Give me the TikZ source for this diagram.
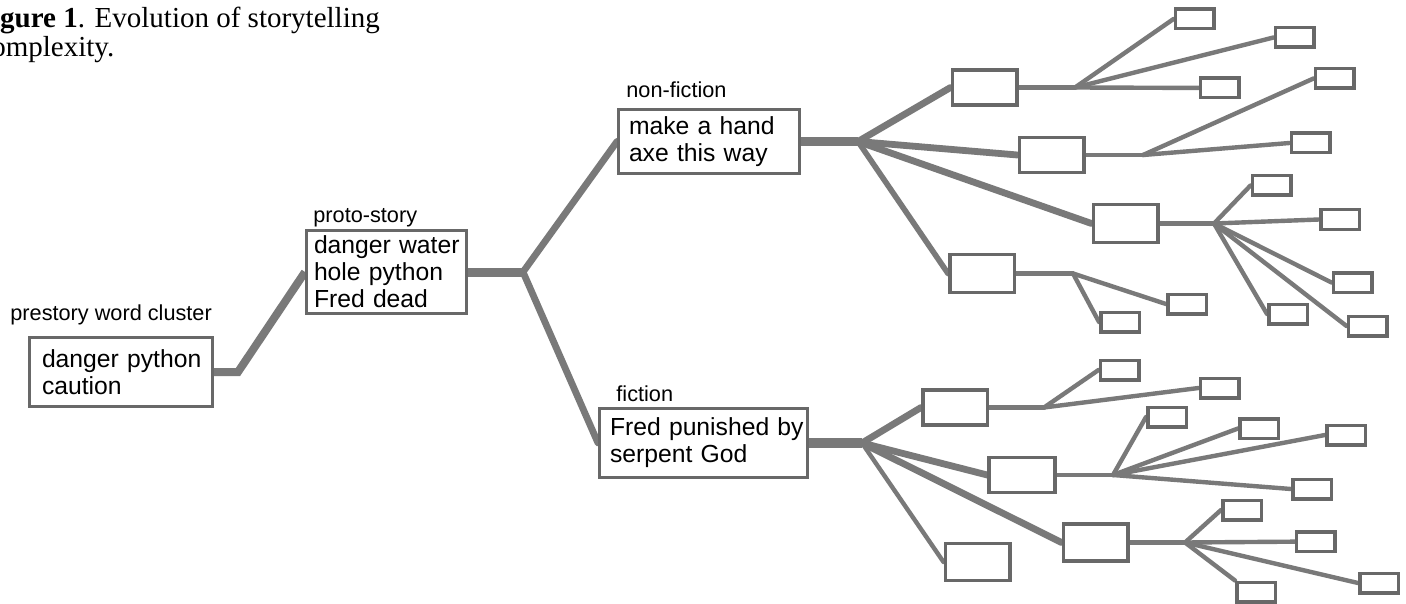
\documentclass[tikz,border=0pt]{standalone}
\usepackage{fontspec}
\usetikzlibrary{backgrounds}
\setmainfont{Liberation Sans}
\newfontfamily\capfont{Liberation Serif}
\definecolor{edge}{HTML}{686868}
\definecolor{wire}{HTML}{797979}
\newcommand\boxfont{\fontsize{12.35}{13.5}\selectfont}
\newcommand\tagfont{\fontsize{10.85}{12}\selectfont}
\newcommand\capsize{\capfont\fontsize{14.5}{16}\selectfont}
\tikzset{
  textbox/.style={draw=edge, line width=1.5pt, fill=white, rectangle,
    inner ysep=0pt, align=left, font=\boxfont, text=black},
  leaf/.style={draw=edge, line width=1.75pt, fill=white, rectangle,
    minimum width=19.25pt, minimum height=9.75pt, inner sep=0pt},
  mid/.style={draw=edge, line width=1.75pt, fill=white, rectangle,
    minimum width=32.25pt, minimum height=17.5pt, inner sep=0pt},
  tag/.style={anchor=base west, inner sep=0pt, font=\tagfont, text=black},
  caption/.style={anchor=base west, inner sep=0pt, font=\capsize, text=black},
  trunk/.style={draw=wire, line width=4.5pt, line join=miter},
  branch/.style={draw=wire, line width=3.4pt, line cap=round},
  twig/.style={draw=wire, line width=2.2pt, line cap=round},
}
\begin{document}
\begin{tikzpicture}[x=0.5pt, y=-0.5pt]
\useasboundingbox (0,0) rectangle (1406,604);
\clip (0,0) rectangle (1406,604);

% caption, running in from the left margin
\node[caption] (cap1) at (-26,28) {\textbf{Figure 1}. Evolution of storytelling};
\node[caption] (cap2) at (-22,57) {complexity.};

% junction points
\coordinate (k0) at (238,372);
\coordinate (k1) at (523,272);
\coordinate (j1) at (858,141.5);
\coordinate (j2) at (862,443);
\coordinate (jA1) at (1075,87.5);
\coordinate (jA2) at (1143,155);
\coordinate (jA3) at (1214,223.5);
\coordinate (jA4) at (1073,273.5);
\coordinate (jB1) at (1044,407.5);
\coordinate (jB2) at (1113,475);
\coordinate (jB3) at (1185,542.5);

% named text boxes
\node[textbox, text width=79pt, inner xsep=6.25pt, minimum height=34.5pt] (pre) at (121,372)
  {\mbox{danger python}\\\mbox{caution}};
\node[textbox, text width=72.5pt, inner xsep=3.75pt, minimum height=41.5pt] (proto) at (386.5,272)
  {\mbox{danger water}\\\mbox{hole python}\\\mbox{Fred dead}};
\node[textbox, text width=80pt, inner xsep=5.25pt, minimum height=32pt] (nf) at (709,141.5)
  {\mbox{make a hand}\\\mbox{axe this way}};
\node[textbox, text width=93.5pt, inner xsep=5.25pt, minimum height=34.5pt] (fic) at (703.5,443)
  {\mbox{Fred punished by}\\\mbox{serpent God}};

\node[tag] (tpre) at (10,320) {prestory word cluster};
\node[tag] (tproto) at (313,222) {proto-story};
\node[tag] (tnf) at (626,98) {non-fiction};
\node[tag] (tfic) at (616,401) {fiction};

% second-level boxes
\node[mid] (A1) at (984.5,87.5) {};
\node[mid] (A2) at (1051.5,155) {};
\node[mid, minimum height=19pt] (A3) at (1125.5,223.5) {};
\node[mid, minimum height=19pt] (A4) at (982,273.5) {};
\node[mid] (B1) at (955,407.5) {};
\node[mid, minimum width=33pt] (B2) at (1022,475) {};
\node[mid, minimum height=18.5pt] (B3) at (1095.5,542.5) {};
\node[mid, minimum height=18.5pt] (B4) at (977.5,562) {};

% leaves
\node[leaf] (a1a) at (1194.5,19) {};
\node[leaf] (a1b) at (1294.5,37.5) {};
\node[leaf] (a1c) at (1219.5,88) {};
\node[leaf] (a2a) at (1334.5,78.5) {};
\node[leaf] (a2b) at (1310.5,143) {};
\node[leaf] (a3a) at (1271.5,185.5) {};
\node[leaf] (a3b) at (1340,219.5) {};
\node[leaf] (a3c) at (1352.5,282.5) {};
\node[leaf] (a3d) at (1288,314) {};
\node[leaf] (a3e) at (1367.5,326) {};
\node[leaf] (a4a) at (1187,304) {};
\node[leaf] (a4b) at (1120,322) {};
\node[leaf] (b1a) at (1119.5,370) {};
\node[leaf] (b1b) at (1219.5,388) {};
\node[leaf] (b2a) at (1167,417) {};
\node[leaf] (b2b) at (1259,428.5) {};
\node[leaf] (b2c) at (1346,435) {};
\node[leaf] (b2d) at (1312,489) {};
\node[leaf] (b3a) at (1242,510) {};
\node[leaf] (b3b) at (1315.5,541.5) {};
\node[leaf] (b3c) at (1379,583) {};
\node[leaf] (b3d) at (1256,592) {};

% all connectors go underneath the boxes
\begin{scope}[on background layer]
\fill[white] (0,0) rectangle (1406,604);

\draw[trunk, line width=4pt] (pre.center) -- (k0) -- (proto.west);
\draw[trunk] (proto.center) -- (k1);
\draw[branch] (k1) -- (nf.west);
\draw[branch] (k1) -- (fic.west);
\draw[trunk] (nf.center) -- (j1);
\draw[trunk, line width=5pt] (fic.center |- j2) -- (j2);

\draw[branch] (j1) -- (A1.west);
\draw[branch] (j1) -- (A2.west);
\draw[branch] (j1) -- (A3.west);
\draw[branch, line width=2.8pt] (j1) -- (A4.west);
\draw[branch] (j2) -- (B1.west);
\draw[branch] (j2) -- (B2.west);
\draw[branch] (j2) -- (B3.west);
\draw[branch, line width=2.2pt] (j2) -- (B4.west);

\draw[twig] (A1.center) -- (jA1);
\draw[twig] (jA1) -- (a1a.west);
\draw[twig] (jA1) -- (a1b.west);
\draw[twig] (jA1) -- (a1c.center);
\draw[twig] (A2.center) -- (jA2);
\draw[twig] (jA2) -- (a2a.west);
\draw[twig] (jA2) -- (a2b.west);
\draw[twig] (A3.center) -- (jA3);
\draw[twig] (jA3) -- (a3a.west);
\draw[twig] (jA3) -- (a3b.west);
\draw[twig] (jA3) -- (a3c.west);
\draw[twig] (jA3) -- (a3d.west);
\draw[twig] (jA3) -- (a3e.west);
\draw[twig] (A4.center) -- (jA4);
\draw[twig] (jA4) -- (a4a.west);
\draw[twig] (jA4) -- (a4b.west);
\draw[twig] (B1.center) -- (jB1);
\draw[twig] (jB1) -- (b1a.west);
\draw[twig] (jB1) -- (b1b.west);
\draw[twig] (B2.center) -- (jB2);
\draw[twig] (jB2) -- (b2a.west);
\draw[twig] (jB2) -- (b2b.west);
\draw[twig] (jB2) -- (b2c.west);
\draw[twig] (jB2) -- (b2d.west);
\draw[twig] (B3.center) -- (jB3);
\draw[twig] (jB3) -- (b3a.west);
\draw[twig] (jB3) -- (b3b.center);
\draw[twig] (jB3) -- (b3c.west);
\draw[twig] (jB3) -- (b3d.north west);
\end{scope}
\end{tikzpicture}
\end{document}
